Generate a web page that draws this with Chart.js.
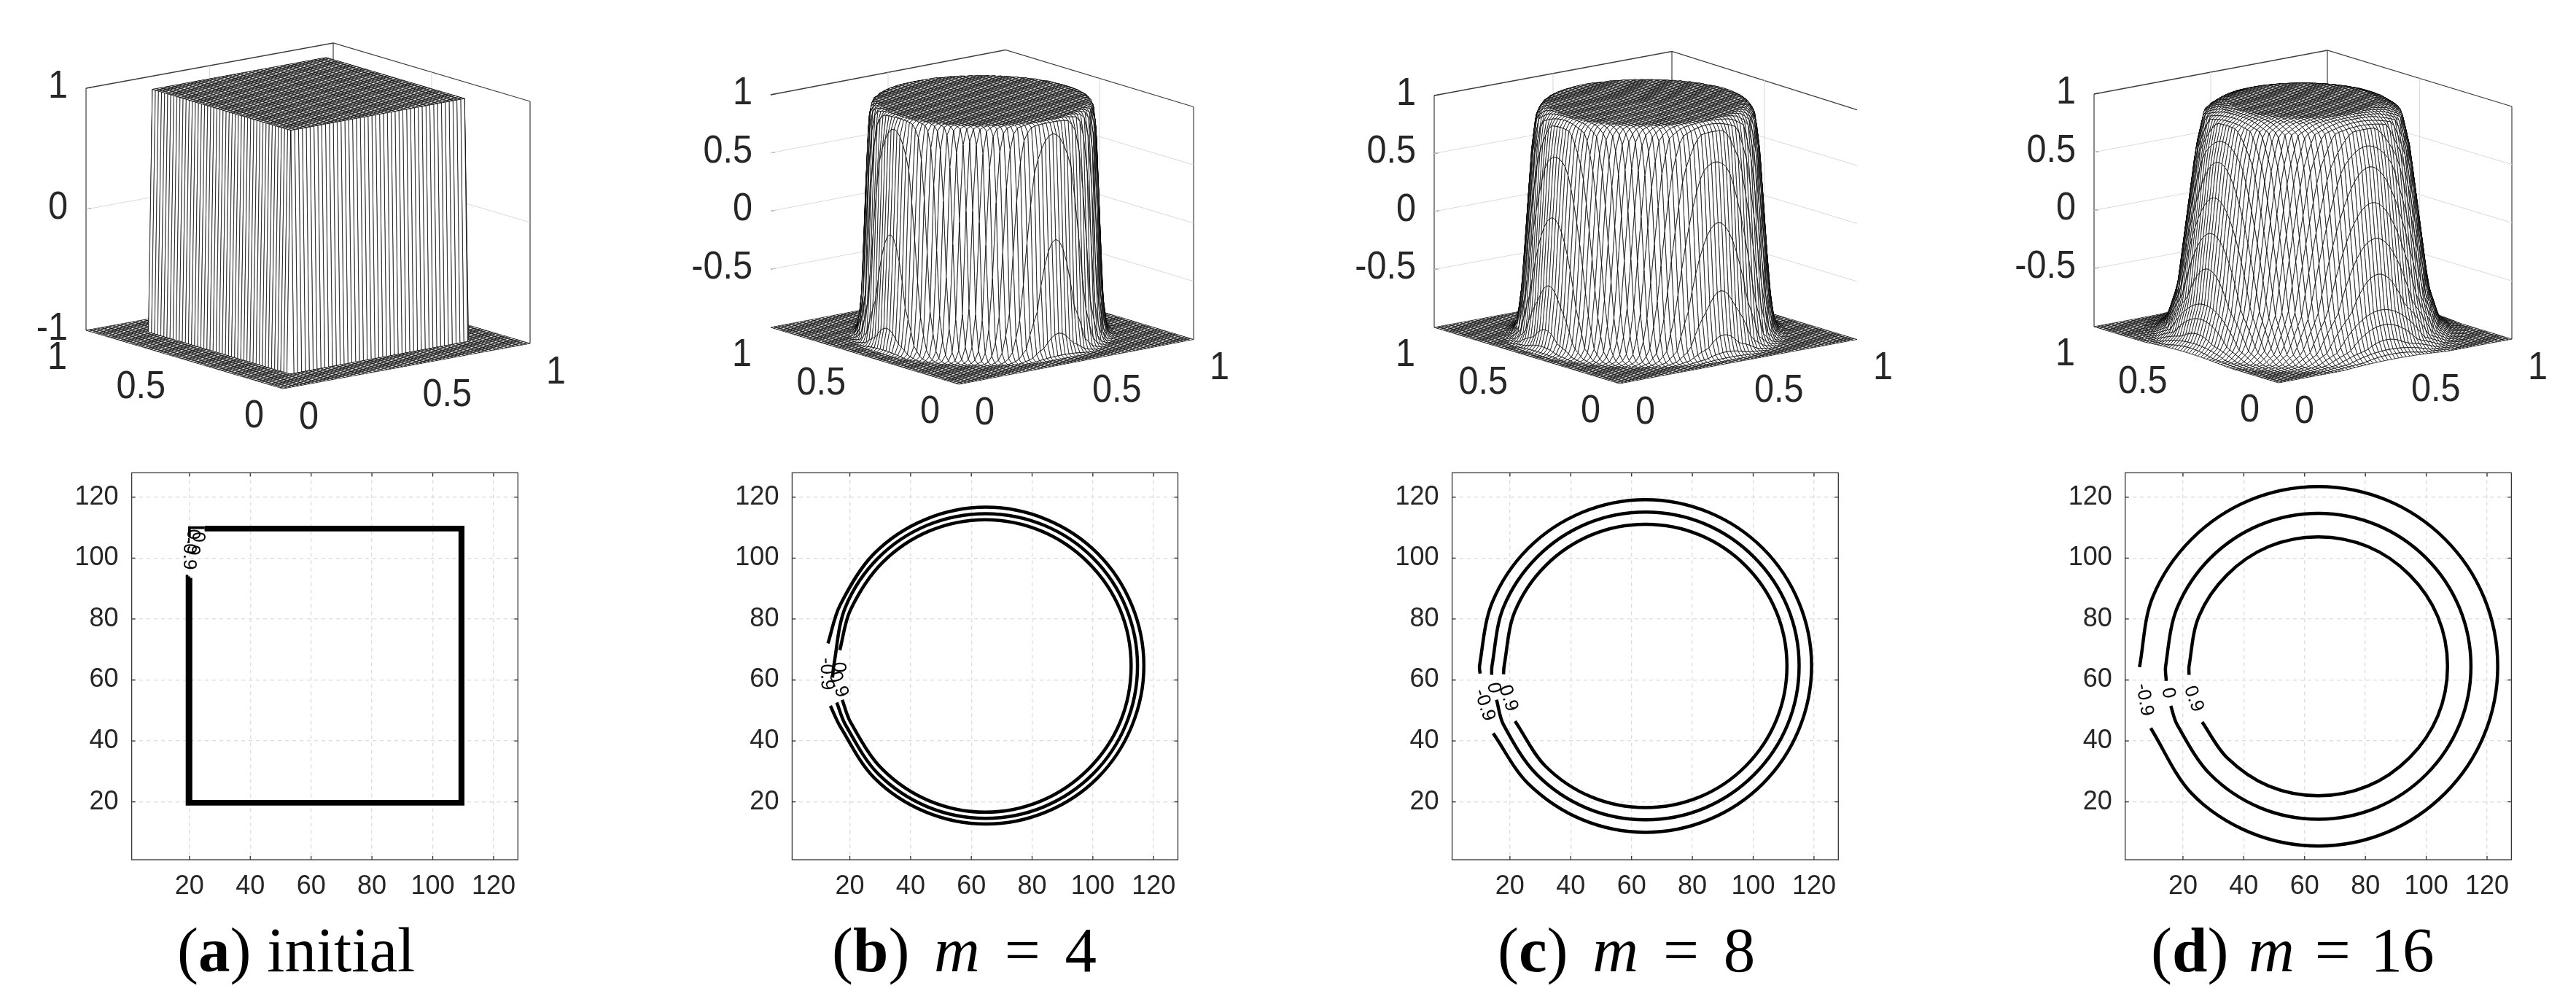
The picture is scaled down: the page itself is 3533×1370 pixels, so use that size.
<!DOCTYPE html>
<html lang="en">
<head>
<meta charset="UTF-8">
<title>Phase field surfaces and contours</title>
<script src="https://cdn.jsdelivr.net/npm/chart.js"></script>
<style>
html, body { margin: 0; padding: 0; background: #fff; }
body { position: relative; width: 3533px; height: 1370px; overflow: hidden; }
canvas { position: absolute; }
.cap { position: absolute; top: 1248px; font: 87px/110px "Liberation Serif", serif; color: #000; white-space: pre; }
</style>
</head>
<body>
<span class="cap" style="left:243px">(<b>a</b>) initial</span>
<span class="cap" style="left:1141px;word-spacing:12px">(<b>b</b>) <i>m</i> = 4</span>
<span class="cap" style="left:2054px;word-spacing:12px">(<b>c</b>) <i>m</i> = 8</span>
<span class="cap" style="left:2950px;word-spacing:6px">(<b>d</b>) <i>m</i> = 16</span>
<script>
// tick labels
const tickValues2d = [20, 40, 60, 80, 100, 120];
const xyTicks3d = [0, 0.5, 1];
const zTicksInitial = [-1, 0, 1];
const zTicks = [-0.5, 0, 0.5, 1];

// surface: mesh lines per side, and the square of the initial state (grid units)
const meshCells = 64;
const squareSide = [20, 110];
const circleCentre = [65, 65];

// surface height against distance from the centre
const m4Radius = [0, 45, 47, 48, 49, 50, 51, 52.5, 54, 56, 200];
const m4Height = [1, 1, 0.98, 0.9, 0.6, 0, -0.6, -0.9, -0.98, -1, -1];
const m8Radius = [0, 42, 44, 46.5, 48.5, 50.5, 52.5, 54.6, 57, 60, 200];
const m8Height = [1, 0.99, 0.97, 0.9, 0.58, 0, -0.58, -0.9, -0.98, -1, -1];
const m16Radius = [0, 32, 37, 42.5, 46, 50, 54, 59, 64, 70, 200];
const m16Height = [1, 0.995, 0.97, 0.9, 0.6, 0, -0.6, -0.9, -0.98, -1, -1];

// contour lines, [x, y] in grid units
const initOuter = [[19.2, 94.5], [19.2, 19.2], [110, 19.2], [110, 110.2], [25, 110.2]];
const initMiddle = [[19.8, 94], [19.8, 19.7], [109.5, 19.7], [109.5, 109.7], [25, 109.7]];
const initInner = [[20.5, 93.5], [20.5, 20.2], [108.9, 20.2], [108.9, 109.2], [25, 109.2]];
const initCorner = [[20, 107], [20, 110], [25, 110]];

const m4Outer = [[12.8, 72], [16.8, 84.6], [28, 101.5], [44.9, 112.7], [64.8, 116.7], [84.7, 112.7], [101.6, 101.5], [112.8, 84.6], [116.8, 64.7], [112.8, 44.8], [101.6, 27.9], [84.7, 16.7], [64.8, 12.7], [44.9, 16.7], [28, 27.9], [16.8, 44.8], [13.6, 51.5]];
const m4Middle = [[14.3, 60.8], [14.7, 64.6], [18.5, 83.8], [29.3, 100], [45.5, 110.8], [64.7, 114.6], [83.9, 110.8], [100.1, 100], [110.9, 83.8], [114.7, 64.6], [110.9, 45.4], [100.1, 29.2], [83.9, 18.4], [64.7, 14.6], [45.5, 18.4], [29.3, 29.2], [18.5, 45.4], [15.7, 52.6]];
const m4Inner = [[16.7, 69.8], [20.2, 83], [30.7, 98.5], [46.2, 108.9], [64.6, 112.6], [83, 108.9], [98.5, 98.5], [109, 83], [112.6, 64.6], [109, 46.2], [98.5, 30.7], [83, 20.3], [64.6, 16.6], [46.2, 20.3], [30.7, 30.7], [20.2, 46.2], [17.5, 53.5]];

const m8Outer = [[10.2, 62.1], [10, 64.6], [14.2, 85.5], [26, 103.2], [43.7, 115], [64.6, 119.2], [85.5, 115], [103.2, 103.2], [115, 85.5], [119.2, 64.6], [115, 43.7], [103.2, 26], [85.5, 14.2], [64.6, 10], [43.7, 14.2], [26, 26], [14.5, 42.5]];
const m8Middle = [[14, 61.7], [14.1, 64.6], [17.9, 83.9], [28.9, 100.3], [45.3, 111.3], [64.6, 115.1], [83.9, 111.3], [100.3, 100.3], [111.3, 83.9], [115.1, 64.6], [111.3, 45.3], [100.3, 28.9], [83.9, 17.9], [64.6, 14.1], [45.3, 17.9], [28.9, 28.9], [17.9, 45.3], [15.6, 53.5]];
const m8Inner = [[17.9, 61.9], [18.1, 64.6], [21.6, 82.4], [31.7, 97.5], [46.8, 107.6], [64.6, 111.1], [82.4, 107.6], [97.5, 97.5], [107.6, 82.4], [111.1, 64.6], [107.6, 46.8], [97.5, 31.7], [82.4, 21.6], [64.6, 18.1], [46.8, 21.6], [31.7, 31.7], [21.7, 46.5]];

const m16Outer = [[5.7, 64.2], [10, 87.1], [22.8, 106.2], [41.9, 119], [64.5, 123.5], [87.1, 119], [106.2, 106.2], [119, 87.1], [123.5, 64.5], [119, 41.9], [106.2, 22.8], [87.1, 10], [64.5, 5.5], [41.9, 10], [22.8, 22.8], [9.4, 44.2]];
const m16Middle = [[14.5, 59.7], [14.3, 64.5], [18.1, 83.7], [29, 100], [45.3, 110.9], [64.5, 114.7], [83.7, 110.9], [100, 100], [110.9, 83.7], [114.7, 64.5], [110.9, 45.3], [100, 29], [83.7, 18.1], [64.5, 14.3], [45.3, 18.1], [29, 29], [18.1, 45.3], [16, 51.5]];
const m16Inner = [[22, 61.7], [22, 64.5], [25.2, 80.8], [34.5, 94.5], [48.2, 103.8], [64.5, 107], [80.8, 103.8], [94.5, 94.5], [103.8, 80.8], [107, 64.5], [103.8, 48.2], [94.5, 34.5], [80.8, 25.2], [64.5, 22], [48.2, 25.2], [34.5, 34.5], [26.3, 46.2]];

// contour labels: text, x, y, rotation in degrees
const contourTexts = ['-0.9', '0', '0.9'];
const initLabelX = [19.8, 22.8, 21], initLabelY = [101.5, 106.9, 105.2], initLabelRot = [90, 90, 90];
const m4LabelX = [12.3, 16.3, 16.2], m4LabelY = [62, 64.2, 58.5], m4LabelRot = [88, 90, 70];
const m8LabelX = [11.6, 14.6, 19.4], m8LabelY = [51.8, 57.4, 54], m8LabelRot = [72, 80, 72];
const m16LabelX = [7.3, 15.1, 23.5], m16LabelY = [53.5, 55.7, 53.8], m16LabelRot = [80, 80, 70];

// MATLAB style mesh: white faces, black edges, painted from the far corner forward
class MeshController extends Chart.ScatterController {
    draw() {
        const pts = this.getMeta().data;
        const ctx = this.chart.ctx;
        const n = meshCells + 1;
        ctx.save();
        ctx.fillStyle = '#fff';
        ctx.strokeStyle = '#000';
        ctx.lineWidth = 0.75;
        ctx.lineJoin = 'round';
        for (let j = n - 2; j >= 0; j--) {
            for (let i = n - 2; i >= 0; i--) {
                const a = pts[j * n + i], b = pts[j * n + i + 1], c = pts[(j + 1) * n + i + 1], d = pts[(j + 1) * n + i];
                ctx.beginPath();
                ctx.moveTo(a.x, a.y);
                ctx.lineTo(b.x, b.y);
                ctx.lineTo(c.x, c.y);
                ctx.lineTo(d.x, d.y);
                ctx.closePath();
                ctx.fill();
                ctx.stroke();
            }
        }
        ctx.restore();
    }
}
MeshController.id = 'mesh';
Chart.register(MeshController);

function project(view, x, y, z) {
    return {
        x: view.fx + x * view.xx + y * view.yx,
        y: view.fy + x * view.xy + y * view.yy - (z + 1) * view.zh / 2
    };
}

function profileHeight(radii, heights, r) {
    let k = 1;
    while (k < radii.length - 1 && radii[k] < r) k++;
    const t = (r - radii[k - 1]) / (radii[k] - radii[k - 1]);
    return heights[k - 1] + t * (heights[k] - heights[k - 1]);
}

function squareHeight(gx, gy) {
    const inside = gx >= squareSide[0] && gx <= squareSide[1] && gy >= squareSide[0] && gy <= squareSide[1];
    return inside ? 1 : -1;
}

function meshNodes(view, heightAt) {
    const nodes = [];
    for (let j = 0; j <= meshCells; j++) {
        for (let i = 0; i <= meshCells; i++) {
            nodes.push(project(view, i / meshCells, j / meshCells, heightAt(i * 2, j * 2)));
        }
    }
    return nodes;
}

function polyline(points, color, width) {
    return { type: 'scatter', data: points, showLine: true, borderColor: color, borderWidth: width, pointRadius: 0, tension: 0, order: 2 };
}

function surfaceChart(view, canvasLeft, zTickList, edges, heightAt) {
    const p = (x, y, z) => project(view, x, y, z);
    const datasets = [{ type: 'mesh', data: meshNodes(view, heightAt), pointRadius: 0, order: 1 }];
    const grey = '#dcdcdc', dark = '#3c3c3c';
    zTickList.forEach(z => {
        if (z > -1 && z < 1) datasets.push(polyline([p(0, 1, z), p(1, 1, z), p(1, 0, z)], grey, 1.2));
        datasets.push(polyline([p(0, 1, z), p(0.02, 1, z)], dark, 1.2));
    });
    datasets.push(polyline([p(0.5, 1, -1), p(0.5, 1, 1)], grey, 1.2));
    datasets.push(polyline([p(1, 0.5, -1), p(1, 0.5, 1)], grey, 1.2));
    datasets.push(polyline([p(0, 1, 1), p(1, 1, 1), p(1, 0, edges.right ? 1 : 0.98)], dark, 1.3));
    if (edges.left) datasets.push(polyline([p(0, 1, -1), p(0, 1, 1)], dark, 1.2));
    if (edges.back) datasets.push(polyline([p(1, 1, -1), p(1, 1, 1)], dark, 1.2));
    if (edges.right) datasets.push(polyline([p(1, 0, -1), p(1, 0, 1)], dark, 1.2));

    const axisText = {
        id: 'axisText',
        afterDraw(chart) {
            const ctx = chart.ctx, sx = chart.scales.x, sy = chart.scales.y;
            const put = (pt, dx, dy, text, align) => {
                ctx.save();
                ctx.translate(sx.getPixelForValue(pt.x) + dx, sy.getPixelForValue(pt.y) + dy);
                ctx.scale(0.9, 1); // the original labels are a little narrow
                ctx.textAlign = align;
                ctx.fillText(text, 0, 0);
                ctx.restore();
            };
            ctx.save();
            ctx.font = '54px "Liberation Sans", sans-serif';
            ctx.fillStyle = '#262626';
            ctx.textBaseline = 'middle';
            zTickList.forEach(z => put(p(0, 1, z), -25, -2, String(z), 'right'));
            xyTicks3d.forEach(v => put(p(0, v, -1), -26, 38, String(v), 'right'));
            xyTicks3d.forEach(v => put(p(v, 0, -1), 22, 40, String(v), 'left'));
            ctx.restore();
        }
    };

    const canvas = document.createElement('canvas');
    canvas.width = 883;
    canvas.height = 640;
    canvas.style.left = canvasLeft + 'px';
    canvas.style.top = '0px';
    document.body.appendChild(canvas);
    new Chart(canvas, {
        type: 'scatter',
        data: { datasets },
        plugins: [axisText],
        options: {
            responsive: false, animation: false, devicePixelRatio: 1, events: [],
            layout: { padding: 0 },
            plugins: { legend: { display: false }, tooltip: { enabled: false } },
            scales: {
                x: { type: 'linear', display: false, min: canvasLeft, max: canvasLeft + 883 },
                y: { type: 'linear', display: false, reverse: true, min: 0, max: 640 }
            }
        }
    });
}

function contourChart(box, canvasLeft, lines, lineWidth, labelX, labelY, labelRot) {
    const top = 640, canvasW = 883, canvasH = 600;
    const frame = {
        id: 'frame',
        afterDraw(chart) {
            const ctx = chart.ctx, a = chart.chartArea, sx = chart.scales.x, sy = chart.scales.y;
            ctx.save();
            ctx.strokeStyle = '#333';
            ctx.lineWidth = 1.3;
            ctx.strokeRect(a.left, a.top, a.right - a.left, a.bottom - a.top);
            ctx.beginPath();
            tickValues2d.forEach(v => {
                const px = sx.getPixelForValue(v), py = sy.getPixelForValue(v);
                ctx.moveTo(px, a.bottom); ctx.lineTo(px, a.bottom - 5);
                ctx.moveTo(px, a.top); ctx.lineTo(px, a.top + 5);
                ctx.moveTo(a.left, py); ctx.lineTo(a.left + 5, py);
                ctx.moveTo(a.right, py); ctx.lineTo(a.right - 5, py);
            });
            ctx.stroke();
            ctx.font = '26px "Liberation Sans", sans-serif';
            ctx.fillStyle = '#000';
            ctx.textAlign = 'center';
            ctx.textBaseline = 'middle';
            contourTexts.forEach((t, k) => {
                ctx.save();
                ctx.translate(sx.getPixelForValue(labelX[k]), sy.getPixelForValue(labelY[k]));
                ctx.rotate(labelRot[k] * Math.PI / 180);
                ctx.fillText(t, 0, 0);
                ctx.restore();
            });
            ctx.restore();
        }
    };
    const canvas = document.createElement('canvas');
    canvas.width = canvasW;
    canvas.height = canvasH;
    canvas.style.left = canvasLeft + 'px';
    canvas.style.top = top + 'px';
    document.body.appendChild(canvas);
    const noPadding = scale => {
        scale.paddingTop = scale.paddingBottom = scale.paddingLeft = scale.paddingRight = 0;
    };
    const axisCommon = {
        type: 'linear', min: 1, max: 128,
        afterBuildTicks(scale) { scale.ticks = tickValues2d.map(v => ({ value: v })); },
        grid: { color: '#dedede', lineWidth: 1.4, drawTicks: false },
        border: { display: false, dash: [5, 5] }
    };
    const tickFont = { family: '"Liberation Sans", sans-serif', size: 36 };
    new Chart(canvas, {
        type: 'scatter',
        data: {
            datasets: lines.map(line => ({
                data: line.map(pt => ({ x: pt[0], y: pt[1] })),
                showLine: true, borderColor: '#000', borderWidth: lineWidth, pointRadius: 0,
                tension: line.length > 5 ? 0.33 : 0, borderCapStyle: 'butt', borderJoinStyle: 'miter'
            }))
        },
        plugins: [frame],
        options: {
            responsive: false, animation: false, devicePixelRatio: 1, events: [],
            layout: { padding: { left: 0, top: box.top - top, right: canvasLeft + canvasW - box.right, bottom: 0 } },
            plugins: { legend: { display: false }, tooltip: { enabled: false } },
            scales: {
                x: {
                    ...axisCommon,
                    afterFit(scale) { scale.height = top + canvasH - box.bottom; noPadding(scale); },
                    ticks: { autoSkip: false, maxRotation: 0, padding: 15, color: '#262626', font: tickFont }
                },
                y: {
                    ...axisCommon,
                    afterFit(scale) { scale.width = box.left - canvasLeft; noPadding(scale); },
                    ticks: { autoSkip: false, padding: 18, color: '#262626', font: tickFont }
                }
            }
        }
    });
}

// view of each surface panel and the plot box of each contour panel, in page pixels
const viewA = { fx: 388, fy: 533, xx: 339, xy: -62, yx: -270, yy: -80, zh: 332 };
const viewB = { fx: 1315, fy: 527, xx: 322, xy: -61.5, yx: -258, yy: -78, zh: 319 };
const viewC = { fx: 2221, fy: 526, xx: 326, xy: -60.5, yx: -254, yy: -77, zh: 318 };
const viewD = { fx: 3125, fy: 525, xx: 320, xy: -60, yx: -253, yy: -77, zh: 319 };

const radial = (radii, heights) => (gx, gy) =>
    profileHeight(radii, heights, Math.hypot(gx - circleCentre[0] + 1, gy - circleCentre[1] + 1));

surfaceChart(viewA, 0, zTicksInitial, { left: true, back: true, right: true }, squareHeight);
surfaceChart(viewB, 900, zTicks, { left: false, back: false, right: true }, radial(m4Radius, m4Height));
surfaceChart(viewC, 1800, zTicks, { left: true, back: true, right: false }, radial(m8Radius, m8Height));
surfaceChart(viewD, 2650, zTicks, { left: true, back: true, right: true }, radial(m16Radius, m16Height));

contourChart({ left: 180.6, right: 710.3, top: 648.4, bottom: 1179 }, 0, [initOuter, initMiddle, initInner, initCorner], 3.6, initLabelX, initLabelY, initLabelRot);
contourChart({ left: 1086.4, right: 1615.5, top: 648.4, bottom: 1179 }, 900, [m4Outer, m4Middle, m4Inner], 4.5, m4LabelX, m4LabelY, m4LabelRot);
contourChart({ left: 1991.6, right: 2521.3, top: 648.4, bottom: 1179 }, 1800, [m8Outer, m8Middle, m8Inner], 4.5, m8LabelX, m8LabelY, m8LabelRot);
contourChart({ left: 2914.7, right: 3444.4, top: 648.4, bottom: 1179 }, 2650, [m16Outer, m16Middle, m16Inner], 4.5, m16LabelX, m16LabelY, m16LabelRot);
</script>
</body>
</html>
